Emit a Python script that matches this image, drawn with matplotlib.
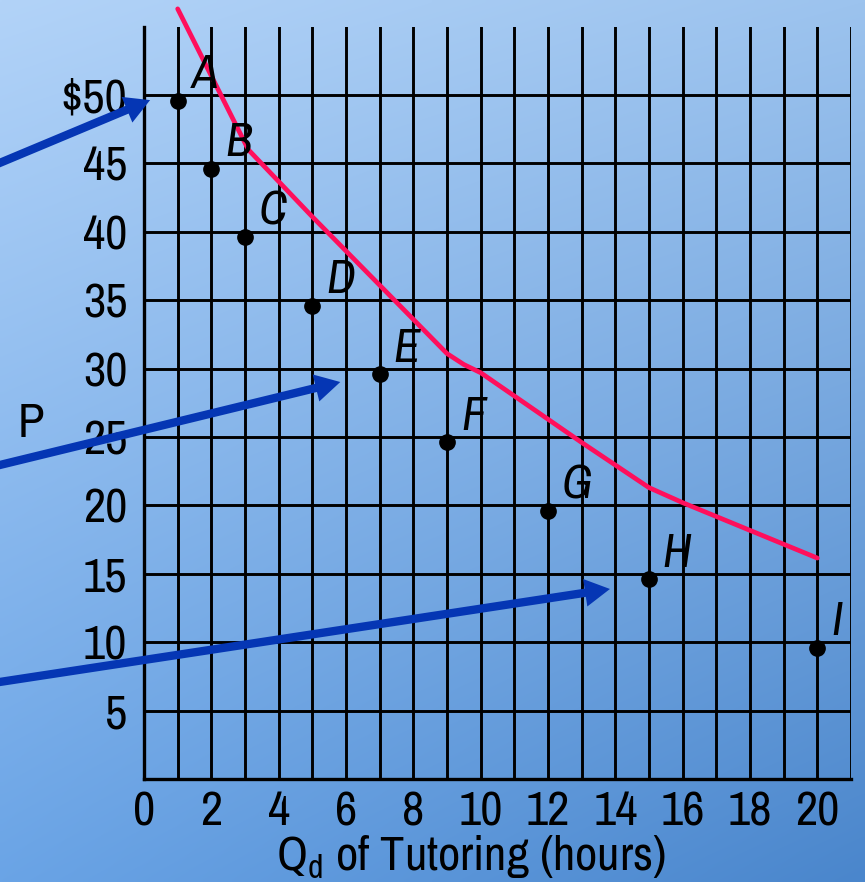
"""Demand schedule for tutoring hours: price vs. quantity demanded."""

import matplotlib
matplotlib.use("Agg")
import matplotlib.pyplot as plt
import numpy as np
from matplotlib.ticker import MultipleLocator

# -----------------------------------------------------------------------
#  Data
# -----------------------------------------------------------------------
POINT_LABELS = ["A", "B", "C", "D", "E", "F", "G", "H", "I"]
QUANTITY = [1, 2, 3, 5, 7, 9, 12, 15, 20]
PRICE = [49.6, 44.6, 39.6, 34.6, 29.6, 24.6, 19.6, 14.6, 9.6]

# Hand-drawn red curve above the schedule points
CURVE_Q = [1.0, 3.1, 5.0, 9.0, 9.5, 10.0, 13.0, 15.0, 16.0, 20.0]
CURVE_P = [56.3, 46.0, 41.1, 31.1, 30.3, 29.7, 24.6, 21.3, 20.2, 16.15]

# Callout arrows coming in from the left margin: (tail, head)
ARROWS = [
    ((-4.69, 44.62), (0.18, 49.63)),
    ((-4.69, 22.71), (5.83, 29.02)),
    ((-4.69, 6.94), (13.84, 13.89)),
]

Y_TICKS = [5, 10, 15, 20, 25, 30, 35, 40, 45, 50]
Y_TICK_LABELS = ["5", "10", "15", "20", "25", "30", "35", "40", "45", "$50"]
X_TICKS = list(range(0, 21, 2))

FONT = ["Archivo Narrow", "DejaVu Sans"]
FS = 35
ARROW_BLUE = "#0536b4"
CURVE_RED = "#ff0f5c"

# -----------------------------------------------------------------------
#  Figure + gradient background
# -----------------------------------------------------------------------
fig = plt.figure(figsize=(8.65, 8.82), dpi=100)

bg = fig.add_axes([0, 0, 1, 1], zorder=-10)
tl = np.array([178, 211, 248]) / 255
tr = np.array([156, 195, 238]) / 255
bl = np.array([106, 164, 230]) / 255
br = np.array([74, 134, 204]) / 255
u = np.linspace(0, 1, 200)[None, :, None]
v = np.linspace(0, 1, 200)[:, None, None]
grad = (1 - v) * ((1 - u) * tl + u * tr) + v * ((1 - u) * bl + u * br)
bg.imshow(grad, aspect="auto", extent=(0, 1, 0, 1), interpolation="bilinear")
bg.axis("off")

ax = fig.add_axes([0.1665, 0.1168, 0.8173, 0.853])
ax.patch.set_alpha(0)
ax.set_xlim(0, 21)
ax.set_ylim(0, 55)

# Grid: a line at every hour, every $5
ax.xaxis.set_major_locator(MultipleLocator(2))
ax.xaxis.set_minor_locator(MultipleLocator(1))
ax.set_xticks(X_TICKS)
ax.set_yticks(Y_TICKS)
ax.grid(True, which="both", color="black", linewidth=2.1)
ax.set_axisbelow(True)
for side in ("top", "right"):
    ax.spines[side].set_visible(False)
for side in ("left", "bottom"):
    ax.spines[side].set_linewidth(2.4)

ax.set_xticklabels([str(t) for t in X_TICKS], family=FONT, fontsize=FS)
ax.set_yticklabels(Y_TICK_LABELS, family=FONT, fontsize=FS)
ax.tick_params(which="both", length=0)
ax.tick_params(axis="x", pad=8)
ax.tick_params(axis="y", pad=12)

ax.set_xlabel("Q$_{\\mathregular{d}}$ of Tutoring (hours)", family=FONT,
              fontsize=FS)
ax.xaxis.set_label_coords(0.462, -0.072)

# Red curve and the schedule points
ax.plot(CURVE_Q, CURVE_P, color=CURVE_RED, linewidth=3.4,
        solid_capstyle="round", clip_on=False, zorder=3)
ax.plot(QUANTITY, PRICE, "o", color="black", markersize=11,
        clip_on=False, zorder=4)
for lab, q, p in zip(POINT_LABELS, QUANTITY, PRICE):
    ax.annotate(lab, (q, p), xytext=(10, 9), textcoords="offset points",
                family=FONT, style="italic", fontsize=FS,
                ha="left", va="baseline", zorder=5)

# Axis name sitting out in the left margin
ax.text(-3.75, 25.0, "P", family=FONT, fontsize=FS, ha="left",
        va="baseline", clip_on=False)

# Callout arrows
for tail, head in ARROWS:
    ax.annotate("", xy=head, xytext=tail, annotation_clip=False,
                arrowprops=dict(
                    arrowstyle="simple,head_length=0.9,head_width=1.0,"
                               "tail_width=0.3",
                    mutation_scale=20, color=ARROW_BLUE, lw=0,
                    shrinkA=0, shrinkB=0),
                zorder=6)

fig.savefig("out.png", dpi=100)
